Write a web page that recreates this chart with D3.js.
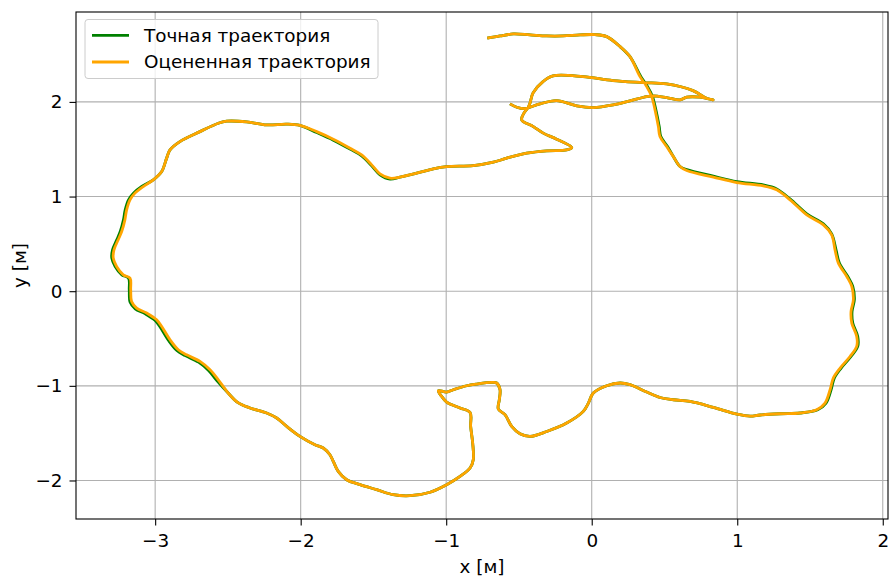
<!DOCTYPE html>
<html>
<head>
<meta charset="utf-8">
<script src="https://cdn.jsdelivr.net/npm/d3@7"></script>
<style>
  body { margin: 0; background: #fff; }
  svg { display: block; font-family: "DejaVu Sans", sans-serif; }
</style>
</head>
<body>
<svg id="chart" width="890" height="576"></svg>
<script>
// estimated trajectory (orange), metres
const estX = [-0.718,-0.630,-0.539,-0.424,-0.309,-0.197,-0.080,0.023,0.103,0.195,
  0.263,0.332,0.378,0.412,0.435,0.458,0.469,0.515,0.561,0.607,
  0.653,0.836,0.997,1.179,1.271,1.363,1.478,1.592,1.649,1.672,
  1.695,1.753,1.787,1.798,1.782,1.787,1.821,1.821,1.775,1.707,
  1.660,1.638,1.603,1.546,1.432,1.294,1.157,1.088,0.999,0.836,
  0.676,0.561,0.469,0.378,0.263,0.195,0.103,0.011,-0.023,-0.058,
  -0.172,-0.309,-0.424,-0.493,-0.550,-0.596,-0.642,-0.635,-0.630,-0.653,
  -0.687,-0.790,-0.859,-0.951,-0.997,-1.054,-1.031,-0.997,-0.905,-0.836,
  -0.832,-0.818,-0.814,-0.836,-0.905,-0.997,-1.111,-1.249,-1.364,-1.478,
  -1.592,-1.684,-1.742,-1.776,-1.799,-1.845,-1.902,-2.005,-2.096,-2.165,
  -2.234,-2.348,-2.431,-2.500,-2.566,-2.623,-2.692,-2.784,-2.841,-2.898,
  -2.955,-2.990,-3.058,-3.127,-3.162,-3.168,-3.173,-3.219,-3.265,-3.288,
  -3.283,-3.254,-3.230,-3.208,-3.196,-3.173,-3.139,-3.082,-3.013,-2.955,
  -2.921,-2.898,-2.830,-2.692,-2.566,-2.509,-2.371,-2.234,-2.096,-2.005,
  -1.890,-1.776,-1.661,-1.581,-1.512,-1.455,-1.386,-1.318,-1.203,-1.089,
  -0.997,-0.814,-0.676,-0.584,-0.447,-0.309,-0.172,-0.137,-0.241,-0.333,
  -0.401,-0.481,-0.465,-0.438,-0.424,-0.403,-0.335,-0.266,-0.060,0.146,
  0.353,0.515,0.696,0.790,0.834,0.744,0.653,0.607,0.515,0.423,
  0.378,0.263,0.148,0.011,-0.103,-0.241,-0.355,-0.424,-0.458,-0.515,
  -0.562];
const estY = [2.673,2.697,2.718,2.708,2.697,2.697,2.708,2.711,2.690,2.584,
  2.478,2.267,2.162,2.056,1.916,1.739,1.634,1.528,1.422,1.317,
  1.275,1.205,1.148,1.113,1.071,0.965,0.807,0.701,0.596,0.437,
  0.297,0.155,0.050,-0.091,-0.214,-0.337,-0.478,-0.584,-0.690,-0.812,
  -0.918,-1.041,-1.182,-1.252,-1.287,-1.295,-1.308,-1.321,-1.300,-1.228,
  -1.165,-1.147,-1.123,-1.066,-0.988,-0.970,-0.999,-1.076,-1.182,-1.270,
  -1.393,-1.482,-1.534,-1.506,-1.429,-1.305,-1.245,-1.147,-1.041,-0.970,
  -0.964,-0.981,-0.999,-1.041,-1.066,-1.052,-1.112,-1.171,-1.234,-1.281,
  -1.429,-1.604,-1.780,-1.868,-1.957,-2.044,-2.124,-2.161,-2.150,-2.097,
  -2.044,-1.992,-1.904,-1.798,-1.728,-1.657,-1.622,-1.534,-1.429,-1.340,
  -1.287,-1.234,-1.178,-1.073,-0.936,-0.830,-0.742,-0.672,-0.619,-0.513,
  -0.373,-0.302,-0.231,-0.178,-0.109,0.015,0.138,0.173,0.261,0.350,
  0.437,0.543,0.630,0.754,0.860,0.965,1.036,1.106,1.176,1.264,
  1.406,1.493,1.581,1.686,1.775,1.796,1.789,1.757,1.765,1.752,
  1.686,1.606,1.511,1.440,1.335,1.240,1.194,1.205,1.247,1.293,
  1.317,1.327,1.363,1.406,1.458,1.483,1.493,1.517,1.606,1.670,
  1.739,1.810,1.884,1.937,1.989,2.095,2.214,2.275,2.267,2.225,
  2.204,2.190,2.119,2.039,2.021,2.050,2.050,2.021,2.045,2.063,
  2.056,2.011,1.968,1.940,1.958,2.014,1.979,1.944,1.929,1.944,
  1.979];

// exact trajectory (green), metres
const trueX = [-0.718,-0.630,-0.539,-0.424,-0.309,-0.197,-0.080,0.023,0.103,0.195,
  0.263,0.338,0.384,0.418,0.441,0.464,0.475,0.521,0.561,0.607,
  0.653,0.836,0.997,1.179,1.271,1.363,1.478,1.592,1.649,1.679,
  1.702,1.760,1.794,1.805,1.789,1.794,1.828,1.828,1.782,1.714,
  1.667,1.645,1.610,1.553,1.432,1.294,1.157,1.088,0.999,0.836,
  0.676,0.561,0.469,0.378,0.263,0.195,0.103,0.011,-0.023,-0.058,
  -0.172,-0.309,-0.424,-0.493,-0.550,-0.596,-0.642,-0.635,-0.630,-0.653,
  -0.687,-0.790,-0.859,-0.951,-0.997,-1.054,-1.031,-0.997,-0.905,-0.836,
  -0.832,-0.818,-0.814,-0.836,-0.905,-0.997,-1.111,-1.249,-1.364,-1.478,
  -1.592,-1.684,-1.742,-1.776,-1.799,-1.845,-1.902,-2.005,-2.096,-2.165,
  -2.234,-2.348,-2.431,-2.500,-2.576,-2.633,-2.702,-2.794,-2.851,-2.908,
  -2.965,-3.000,-3.068,-3.137,-3.172,-3.178,-3.183,-3.229,-3.275,-3.298,
  -3.293,-3.264,-3.240,-3.218,-3.206,-3.183,-3.149,-3.092,-3.013,-2.955,
  -2.921,-2.898,-2.830,-2.692,-2.566,-2.509,-2.371,-2.234,-2.096,-2.005,
  -1.890,-1.776,-1.661,-1.581,-1.512,-1.455,-1.386,-1.318,-1.203,-1.089,
  -0.997,-0.814,-0.676,-0.584,-0.447,-0.309,-0.172,-0.137,-0.241,-0.333,
  -0.401,-0.481,-0.465,-0.438,-0.424,-0.403,-0.335,-0.266,-0.060,0.146,
  0.353,0.515,0.696,0.790,0.834,0.744,0.653,0.607,0.515,0.423,
  0.378,0.263,0.148,0.011,-0.103,-0.241,-0.355,-0.424,-0.458,-0.515,
  -0.562];
const trueY = [2.673,2.697,2.718,2.708,2.697,2.697,2.708,2.711,2.690,2.584,
  2.478,2.267,2.162,2.056,1.916,1.739,1.634,1.528,1.422,1.317,
  1.285,1.215,1.158,1.123,1.081,0.975,0.817,0.711,0.606,0.437,
  0.297,0.155,0.050,-0.091,-0.214,-0.337,-0.478,-0.584,-0.690,-0.812,
  -0.918,-1.041,-1.182,-1.252,-1.287,-1.295,-1.308,-1.321,-1.300,-1.228,
  -1.165,-1.147,-1.123,-1.066,-0.988,-0.970,-0.999,-1.076,-1.182,-1.270,
  -1.393,-1.482,-1.534,-1.506,-1.429,-1.305,-1.245,-1.147,-1.041,-0.970,
  -0.964,-0.981,-0.999,-1.041,-1.066,-1.052,-1.112,-1.171,-1.234,-1.281,
  -1.429,-1.604,-1.780,-1.868,-1.957,-2.044,-2.124,-2.161,-2.150,-2.097,
  -2.044,-1.992,-1.904,-1.798,-1.728,-1.657,-1.622,-1.534,-1.429,-1.340,
  -1.287,-1.234,-1.178,-1.073,-0.944,-0.838,-0.750,-0.680,-0.627,-0.521,
  -0.381,-0.310,-0.239,-0.186,-0.117,0.015,0.138,0.173,0.261,0.350,
  0.437,0.543,0.630,0.754,0.860,0.965,1.036,1.106,1.176,1.264,
  1.406,1.493,1.581,1.686,1.775,1.796,1.789,1.757,1.765,1.752,
  1.676,1.596,1.501,1.430,1.325,1.230,1.184,1.205,1.247,1.293,
  1.317,1.327,1.363,1.406,1.458,1.483,1.493,1.517,1.606,1.670,
  1.739,1.810,1.884,1.937,1.989,2.095,2.214,2.275,2.267,2.225,
  2.204,2.190,2.119,2.039,2.021,2.050,2.050,2.021,2.045,2.063,
  2.056,2.011,1.968,1.940,1.958,2.014,1.979,1.944,1.929,1.944,
  1.979];

const xTicks = [-3, -2, -1, 0, 1, 2];
const yTicks = [-2, -1, 0, 1, 2];
const seriesNames = ["Точная траектория", "Оцененная траектория"];
const seriesColors = ["green", "orange"];

const margin = { left: 76, top: 12, right: 888, bottom: 519 };
const fontSize = 18.4;

const svg = d3.select("#chart");
svg.append("rect").attr("width", 890).attr("height", 576).attr("fill", "#fff");

const x = d3.scaleLinear().domain([-3.544, 2.036]).range([margin.left, margin.right]);
const y = d3.scaleLinear().domain([-2.407, 2.950]).range([margin.bottom, margin.top]);

// grid
const grid = svg.append("g").attr("stroke", "#b0b0b0").attr("stroke-width", 1.1);
grid.selectAll(".gx").data(xTicks).join("line")
  .attr("x1", d => x(d)).attr("x2", d => x(d))
  .attr("y1", margin.top).attr("y2", margin.bottom);
grid.selectAll(".gy").data(yTicks).join("line")
  .attr("y1", d => y(d)).attr("y2", d => y(d))
  .attr("x1", margin.left).attr("x2", margin.right);

// trajectories
const line = d3.line()
  .x(d => x(d[0]))
  .y(d => y(d[1]))
  .curve(d3.curveCatmullRom.alpha(0.5));

const trueData = d3.zip(trueX, trueY);
const estData = d3.zip(estX, estY);

[trueData, estData].forEach((pts, i) => {
  svg.append("path")
    .datum(pts)
    .attr("d", line)
    .attr("fill", "none")
    .attr("stroke", seriesColors[i])
    .attr("stroke-width", 2.8)
    .attr("stroke-linejoin", "round");
});

// axes
const xAxis = d3.axisBottom(x).tickValues(xTicks).tickSize(6.5).tickPadding(8)
  .tickFormat(d3.format("d"));
const yAxis = d3.axisLeft(y).tickValues(yTicks).tickSize(6.5).tickPadding(7)
  .tickFormat(d3.format("d"));

svg.append("g").attr("transform", `translate(0,${margin.bottom})`).call(xAxis)
  .call(g => g.select(".domain").remove());
svg.append("g").attr("transform", `translate(${margin.left},0)`).call(yAxis)
  .call(g => g.select(".domain").remove());

svg.selectAll(".tick text")
  .attr("font-family", "DejaVu Sans").attr("font-size", fontSize).attr("fill", "#000");
svg.selectAll(".tick line").attr("stroke", "#000").attr("stroke-width", 1.1);

// spines
svg.append("rect")
  .attr("x", margin.left).attr("y", margin.top)
  .attr("width", margin.right - margin.left).attr("height", margin.bottom - margin.top)
  .attr("fill", "none").attr("stroke", "#000").attr("stroke-width", 1.1);

// axis labels
svg.append("text")
  .attr("x", (margin.left + margin.right) / 2).attr("y", 573)
  .attr("text-anchor", "middle").attr("font-size", fontSize)
  .text("x [м]");
svg.append("text")
  .attr("transform", `translate(26,${(margin.top + margin.bottom) / 2}) rotate(-90)`)
  .attr("text-anchor", "middle").attr("font-size", fontSize)
  .text("y [м]");

// legend
const legend = svg.append("g");
legend.append("rect")
  .attr("x", 85).attr("y", 19.5).attr("width", 293).attr("height", 59)
  .attr("rx", 3).attr("fill", "#fff").attr("fill-opacity", 0.8)
  .attr("stroke", "#ccc").attr("stroke-width", 1);
seriesNames.forEach((name, i) => {
  const cy = 35.3 + i * 26.7;
  legend.append("line")
    .attr("x1", 92).attr("x2", 129).attr("y1", cy).attr("y2", cy)
    .attr("stroke", seriesColors[i]).attr("stroke-width", 2.8);
  legend.append("text")
    .attr("x", 144).attr("y", cy).attr("dy", "0.35em")
    .attr("font-size", fontSize)
    .text(name);
});
</script>
</body>
</html>
